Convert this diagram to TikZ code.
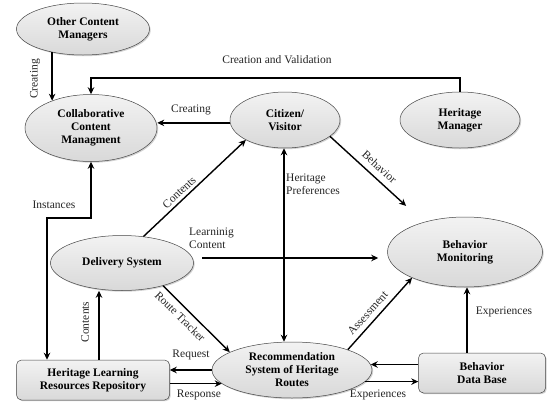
\documentclass[tikz,border=0pt]{standalone}
\usepackage{fontspec}
\setmainfont{Liberation Serif}
\usetikzlibrary{shapes.geometric,arrows.meta,shadows}
\newcommand\nodefnt{\bfseries\fontsize{11.5}{13}\selectfont}
\newcommand\lblfnt{\fontsize{11.5}{12.5}\selectfont}
\begin{document}
\begin{tikzpicture}[x=1pt,y=-1pt,
  ell/.style={ellipse, draw=gray!55!black, line width=0.5pt,
    top color=gray!10, bottom color=gray!30, font=\nodefnt, align=center,
    inner sep=0pt, drop shadow={shadow xshift=1.2pt, shadow yshift=-1.2pt, opacity=0.35}},
  rbox/.style={rectangle, rounded corners=5pt, draw=gray!55!black, line width=0.5pt,
    top color=gray!10, bottom color=gray!30, font=\nodefnt, align=center,
    inner sep=0pt, drop shadow={shadow xshift=1.2pt, shadow yshift=-1.2pt, opacity=0.35}},
  arr/.style={-{Stealth[length=7pt,width=6.5pt]}, line width=1.4pt},
  darr/.style={{Stealth[length=7pt,width=6.5pt]}-{Stealth[length=7pt,width=6.5pt]}, line width=1.4pt},
  lbl/.style={font=\lblfnt, inner sep=1pt, text=black!85}]
\fill[white] (0,0) rectangle (550,405);
\useasboundingbox (0,0) rectangle (550,405);

% nodes
\node[ell, minimum width=133pt, minimum height=52pt] (ocm) at (83,29) {Other Content\\Managers};
\node[ell, minimum width=132pt, minimum height=67pt] (ccm) at (91,128) {Collaborative\\Content\\Managment};
\node[ell, minimum width=110pt, minimum height=56pt] (cv) at (285,120) {Citizen/\\Visitor};
\node[ell, minimum width=120pt, minimum height=56pt] (hm) at (460,120) {Heritage\\Manager};
\node[ell, minimum width=143pt, minimum height=55pt] (ds) at (122,263) {Delivery System};
\node[ell, minimum width=155pt, minimum height=70pt] (bm) at (465,252) {Behavior\\Monitoring};
\node[ell, minimum width=160pt, minimum height=56pt] (rs) at (292,370) {Recommendation\\System of Heritage\\Routes};
\node[rbox, minimum width=153pt, minimum height=40pt] (hl) at (93,380) {Heritage Learning\\Resources Repository};
\node[rbox, minimum width=127pt, minimum height=40pt] (db) at (482,373) {Behavior\\Data Base};

% helper coordinates
\coordinate (cvtop) at (0,78);
\coordinate (ic) at (47,218);
\coordinate (cx) at (99,0);
\coordinate (ex) at (467,0);
\coordinate (hp) at (284,0);
\coordinate (lc) at (202,258);

% connectors
\draw[arr] (ocm.217) -- (ocm.217 |- ccm.145);
\node[lbl, rotate=90] (l1) at (35,79) {Creating};

\draw[arr] (hm.north) |- (ccm.north |- cvtop) -- (ccm.north);
\node[lbl] (l2) at (277,60) {Creation and Validation};

\draw[arr] (cv.183) -- (cv.183 -| ccm.east);
\node[lbl] (l3) at (191,110) {Creating};

\draw[arr] (ds.51) -- (cv.207) node[lbl, pos=0.4, sloped, above=2pt] (l4) {Contents};

\draw[darr] (ccm.south) |- (ic) -- (ic |- hl.north);
\node[lbl] (l5) at (54,205) {Instances};

\draw[arr] (hl.north -| cx) -- (cx |- ds.south);
\node[lbl, rotate=90] (l6) at (85,322) {Contents};

\draw[arr] (ds.331) -- (rs.164) node[lbl, pos=0.36, sloped, below=4pt] (l7) {Route Tracker};

\draw[arr] (rs.west) -- (rs.west -| hl.east);
\node[lbl] (l8) at (191,355) {Request};
\draw[arr] (hl.east |- rs.191) -- (rs.191);
\node[lbl] (l9) at (199,395) {Response};

\draw[arr] (rs.4 -| db.west) -- (rs.4);
\draw[arr] (rs.351) -- (rs.351 -| db.west);
\node[lbl] (l10) at (378,395) {Experiences};

\draw[arr] (db.north -| ex) -- (ex |- bm.south);
\node[lbl] (l11) at (504,312) {Experiences};

\draw[arr] (rs.20) -- (bm.206) node[lbl, pos=0.42, sloped, above=4pt] (l12) {Assessment};

\draw[arr, shorten >=9pt] (lc) -- (lc -| bm.west);
\node[lbl, align=left, anchor=west] (l13) at (188,238) {Learninig\\Content};

\draw[darr] (hp |- cv.south) -- (hp |- rs.north);
\node[lbl, align=left, anchor=west] (l14) at (285,184) {Heritage\\Preferences};

\draw[arr, shorten >=24pt] (cv.340) -- (bm.144) node[lbl, pos=0.45, sloped, above=5pt] (l15) {Behavior};
\end{tikzpicture}
\end{document}
